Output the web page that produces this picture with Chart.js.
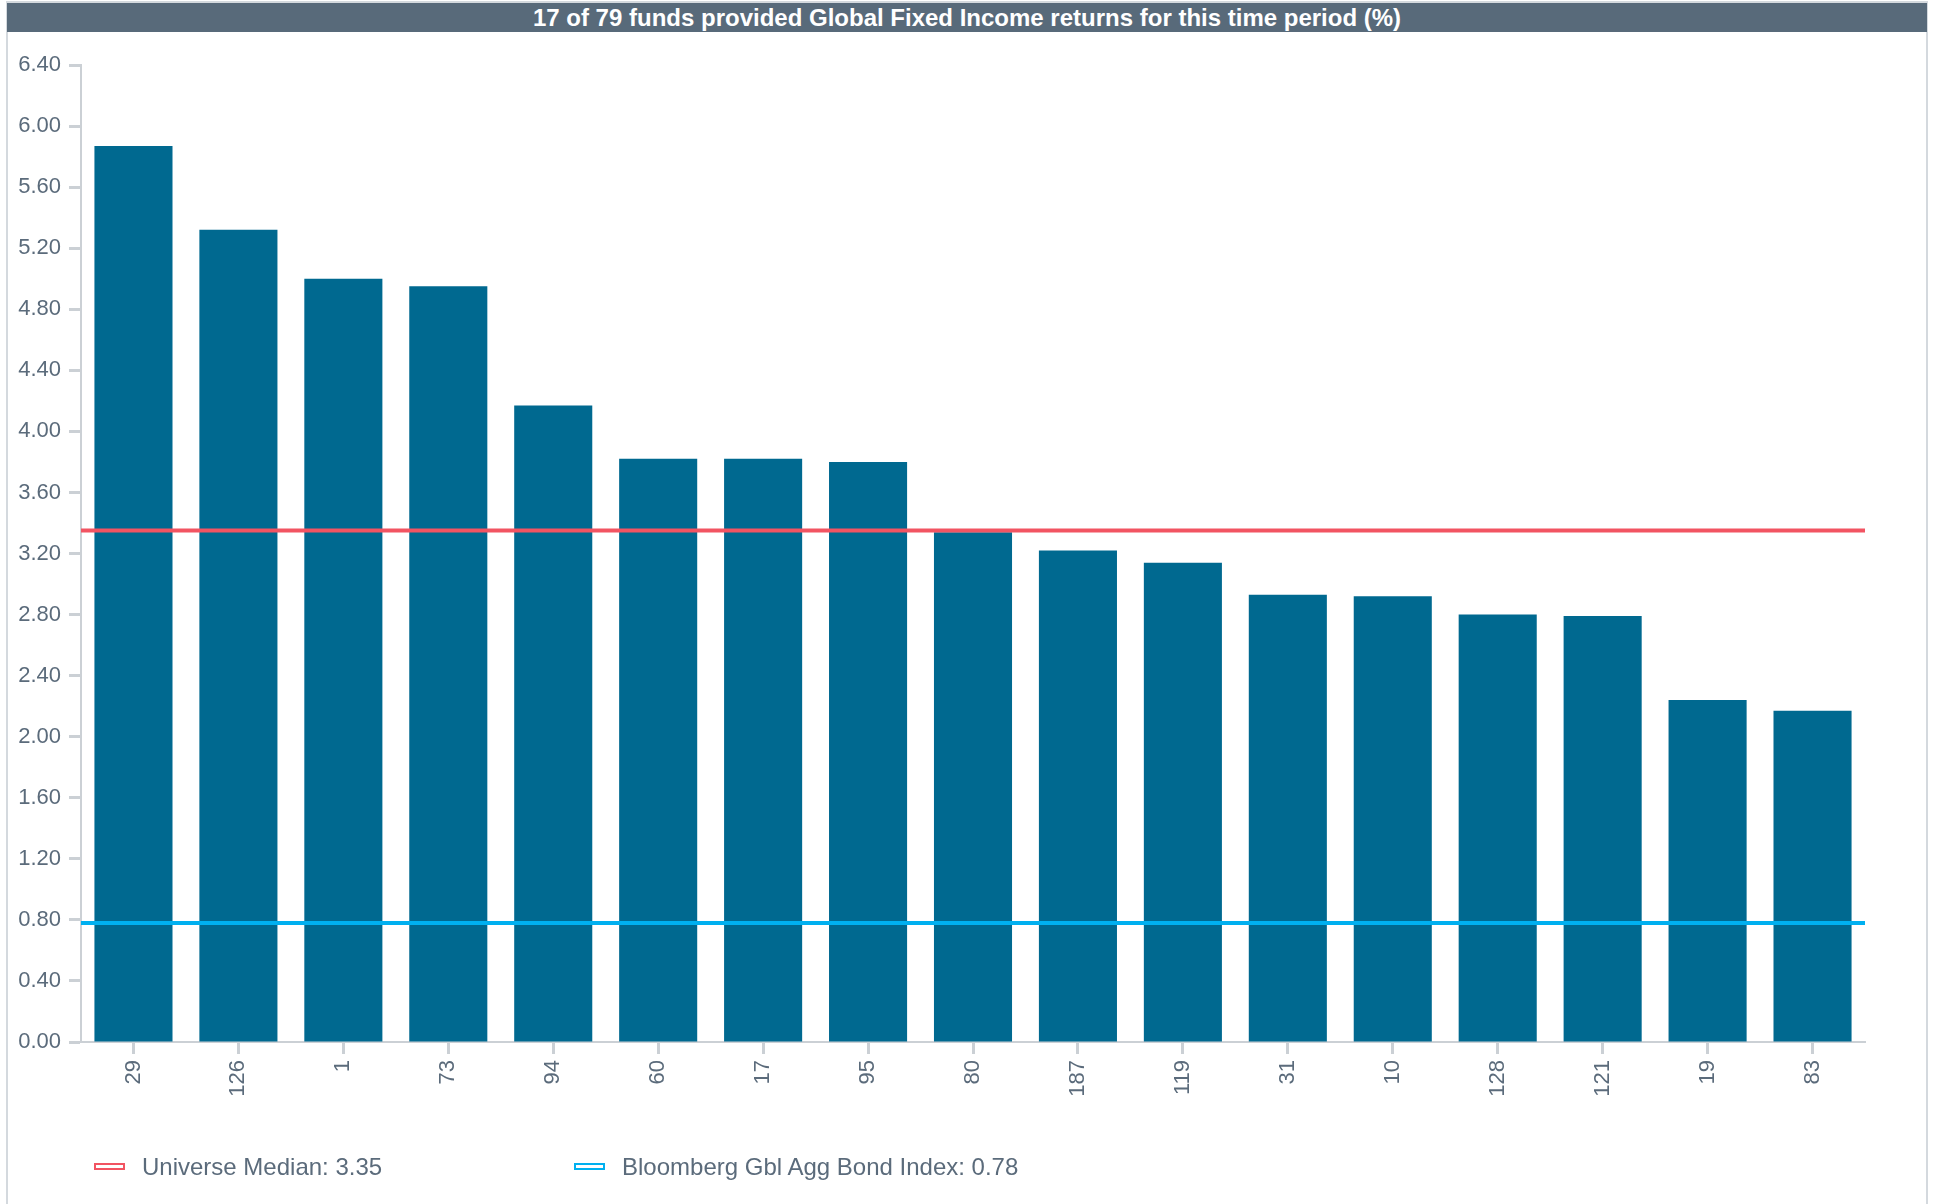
<!DOCTYPE html>
<html>
<head>
<meta charset="utf-8">
<script src="https://cdn.jsdelivr.net/npm/chart.js@4.4.1/dist/chart.umd.min.js"></script>
<style>
  html, body { margin: 0; padding: 0; background: #ffffff; }
  body { width: 1933px; height: 1204px; position: relative; overflow: hidden;
         font-family: "Liberation Sans", Arial, Helvetica, sans-serif; }
  #panel { position: absolute; left: 6px; top: 1px; width: 1922px; height: 1210px;
           border: 2px solid #d4d9de; box-sizing: border-box; }
  #title { position: absolute; left: 7px; top: 3px; width: 1920px; height: 29px;
           background: #586a7a; color: #ffffff; font-weight: bold; font-size: 24px;
           line-height: 29px; text-align: center; }
  #chartWrap { position: absolute; left: 0; top: 0; width: 1933px; height: 1204px; }
  #legend { position: absolute; left: 94px; top: 1153px; height: 28px; }
  .item { position: absolute; top: 0; height: 28px; white-space: nowrap; }
  .swatch { position: absolute; left: 0; top: 10px; width: 31px; height: 7px;
            box-sizing: border-box; border: 2px solid; background: #ffffff; }
  .label { position: absolute; left: 48px; top: 0; font-size: 24px; line-height: 28px; color: #5b6b7b; }
</style>
</head>
<body>
<div id="panel"></div>
<div id="title">17 of 79 funds provided Global Fixed Income returns for this time period (%)</div>
<div id="chartWrap"><canvas id="c" width="1933" height="1204"></canvas></div>
<div id="legend"></div>
<script>
// Fund identifiers along the x axis, ranked by return
const funds = ['29', '126', '1', '73', '94', '60', '17', '95', '80', '187', '119', '31', '10', '128', '121', '19', '83'];
// Global Fixed Income return per fund (%)
const returns = [5.87, 5.32, 5.00, 4.95, 4.17, 3.82, 3.82, 3.80, 3.34, 3.22, 3.14, 2.93, 2.92, 2.80, 2.79, 2.24, 2.17];
// Reference levels
const universeMedian = 3.35;
const benchmarkReturn = 0.78;
const benchmarkName = 'Bloomberg Gbl Agg Bond Index';
// Value axis
const yMin = 0;
const yMax = 6.4;
const yStep = 0.4;

const textColor = '#5b6b7b';
const axisColor = '#cbd0d5';
const barColor = '#006990';
const medianColor = '#f25462';
const benchColor = '#00b0f0';
const font = '"Liberation Sans", Arial, Helvetica, sans-serif';

// A reference level drawn across the full plot width on a hidden 0..1 axis
function levelLine(label, value, color, order) {
  return {
    type: 'line',
    label: label,
    xAxisID: 'xLevel',
    data: [{ x: 0, y: value }, { x: 1, y: value }],
    borderColor: color,
    backgroundColor: color,
    borderWidth: 4,
    pointRadius: 0,
    order: order
  };
}

const chart = new Chart(document.getElementById('c'), {
  type: 'bar',
  data: {
    labels: funds,
    datasets: [
      {
        label: 'Return',
        data: returns,
        xAxisID: 'x',
        backgroundColor: barColor,
        borderWidth: 0,
        grouped: false,
        categoryPercentage: 1,
        barPercentage: 0.744,
        order: 3
      },
      levelLine('Universe Median: ' + universeMedian.toFixed(2), universeMedian, medianColor, 1),
      levelLine(benchmarkName + ': ' + benchmarkReturn.toFixed(2), benchmarkReturn, benchColor, 0)
    ]
  },
  options: {
    responsive: false,
    animation: false,
    layout: { padding: { left: 0, right: 68, top: 65, bottom: 62 } },
    plugins: {
      legend: { display: false },
      title: { display: false },
      tooltip: { enabled: false }
    },
    scales: {
      x: {
        type: 'category',
        offset: true,
        grid: {
          display: true, offset: false, drawOnChartArea: false, drawTicks: true,
          tickLength: 12, tickWidth: 3, tickColor: axisColor
        },
        border: { display: true, color: axisColor, width: 2 },
        ticks: {
          autoSkip: false, maxRotation: 90, minRotation: 90, padding: 6,
          color: textColor, font: { family: font, size: 22 }
        },
        afterFit: (s) => { s.height = 100; }
      },
      xLevel: {
        type: 'linear',
        axis: 'x',
        min: 0,
        max: 1,
        offset: false,
        grid: { offset: false },
        display: false
      },
      y: {
        min: yMin,
        max: yMax,
        grid: {
          display: true, drawOnChartArea: false, drawTicks: true,
          tickLength: 12, tickWidth: 3, tickColor: axisColor
        },
        border: { display: true, color: axisColor, width: 2 },
        ticks: {
          stepSize: yStep, padding: 8, color: textColor,
          font: { family: font, size: 22 },
          callback: (v) => Number(v).toFixed(2)
        },
        afterFit: (s) => { s.width = 81; }
      }
    }
  }
});

// Legend built from the reference-level datasets
const legend = document.getElementById('legend');
chart.data.datasets.filter(d => d.type === 'line').forEach((d, i) => {
  const item = document.createElement('div');
  item.className = 'item';
  item.style.left = (i * 480) + 'px';
  const sw = document.createElement('span');
  sw.className = 'swatch';
  sw.style.borderColor = d.borderColor;
  const tx = document.createElement('span');
  tx.className = 'label';
  tx.textContent = d.label;
  item.appendChild(sw);
  item.appendChild(tx);
  legend.appendChild(item);
});
</script>
</body>
</html>
